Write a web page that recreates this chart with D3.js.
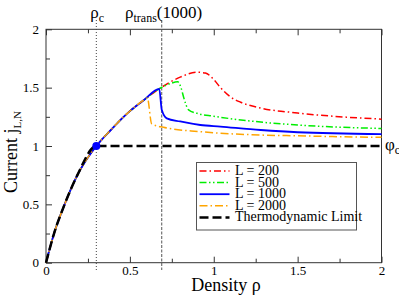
<!DOCTYPE html>
<html>
<head>
<meta charset="utf-8">
<script src="https://cdn.jsdelivr.net/npm/d3@7"></script>
<style>
  body { margin: 0; background: #fff; }
  svg { display: block; }
</style>
</head>
<body>
<svg id="chart" width="399" height="296"></svg>
<script>
// curve points, [density, current]
const base = [[0, 0], [0.048, 0.25], [0.111, 0.5], [0.187, 0.75], [0.3, 1.0],
              [0.386, 1.137], [0.485, 1.28], [0.584, 1.394]];
const L200 = base.concat([[0.675, 1.49], [0.8, 1.59], [0.9, 1.632], [0.95, 1.625], [1.0, 1.57],
              [1.04, 1.5], [1.1, 1.42], [1.16, 1.375], [1.28, 1.325], [1.5, 1.283], [2, 1.23]]);
const L500 = base.concat([[0.675, 1.49], [0.74, 1.535], [0.785, 1.55], [0.805, 1.5], [0.82, 1.42],
              [0.85, 1.31], [0.9, 1.28], [1.0, 1.255], [1.28, 1.205], [1.5, 1.18], [2, 1.15]]);
const L1000 = base.concat([[0.675, 1.49], [0.69, 1.31], [0.72, 1.237], [0.8, 1.21], [0.92, 1.18],
              [1.04, 1.166], [1.28, 1.137], [1.5, 1.118], [2, 1.102]]);
const L2000 = base.concat([[0.604, 1.412], [0.63, 1.19], [0.7, 1.16], [0.92, 1.123],
              [1.22, 1.097], [1.5, 1.087], [2, 1.074]]);
const thermo = base.slice(0, 5).concat([[2, 1.0]]);

const rhoC = 0.3, rhoTrans = 0.69, phiC = 1.0;
const xMajor = [0, 0.5, 1, 1.5, 2], xMinor = [0.25, 0.75, 1.25, 1.75];
const yMajor = [0, 0.5, 1, 1.5, 2], yMinor = [0.25, 0.75, 1.25, 1.75];
const legendLabels = ["L = 200", "L = 500", "L = 1000", "L = 2000", "Thermodynamic Limit"];

const FONT = "'Liberation Serif', 'Times New Roman', Times, 'DejaVu Serif', serif";

const series = [
  {data: L200,  color: "#ff0000", dash: "7,3,1.5,3", width: 1.5},
  {data: L500,  color: "#00ee00", dash: "7,2.5,1.5,2.5,1.5,2.5", width: 1.5},
  {data: L1000, color: "#0000ff", dash: null, width: 1.8},
  {data: L2000, color: "#ffa500", dash: "8,3,1.5,3", width: 1.5},
  {data: thermo, color: "#000", dash: "9,4", width: 2.5}
];

const svg = d3.select("#chart").attr("font-family", FONT);
const x = d3.scaleLinear().domain([0, 2]).range([46, 381.5]);
const y = d3.scaleLinear().domain([0, 2]).range([262.7, 29.3]);

// axes, ticks pointing inward
function axis(gen, vals, size, pad, labels, tr) {
  const g = svg.append("g").attr("transform", tr)
    .call(gen.tickValues(vals).tickSize(size).tickPadding(pad)
      .tickFormat(labels ? d3.format("") : ""));
  g.attr("font-family", FONT).attr("font-size", 13);
  g.select(".domain").remove();
  g.selectAll(".tick line").attr("stroke", "#333");
  return g;
}
axis(d3.axisBottom(x), xMajor, -6, 3, true, `translate(0,${y(0)})`);
axis(d3.axisBottom(x), xMinor, -4, 3, false, `translate(0,${y(0)})`);
axis(d3.axisTop(x), xMajor, -6, 3, false, `translate(0,${y(2)})`);
axis(d3.axisTop(x), xMinor, -4, 3, false, `translate(0,${y(2)})`);
axis(d3.axisLeft(y), yMajor, -6, 7, true, `translate(${x(0)},0)`);
axis(d3.axisLeft(y), yMinor, -4, 7, false, `translate(${x(0)},0)`);

svg.append("rect")
  .attr("x", x(0)).attr("y", y(2)).attr("width", x(2) - x(0)).attr("height", y(0) - y(2))
  .attr("fill", "none").attr("stroke", "#333").attr("stroke-width", 1);

// vertical markers
svg.append("line").attr("x1", x(rhoC)).attr("x2", x(rhoC)).attr("y1", 20).attr("y2", 270)
  .attr("stroke", "#444").attr("stroke-dasharray", "1,2");
svg.append("line").attr("x1", x(rhoTrans)).attr("x2", x(rhoTrans)).attr("y1", 20).attr("y2", 270)
  .attr("stroke", "#555").attr("stroke-dasharray", "3,1.5");

const line = d3.line().x(d => x(d[0])).y(d => y(d[1])).curve(d3.curveMonotoneX);
series.forEach(s => {
  svg.append("path").datum(s.data).attr("d", line)
    .attr("fill", "none").attr("stroke", s.color).attr("stroke-width", s.width)
    .attr("stroke-dasharray", s.dash);
});

svg.append("circle").attr("cx", x(rhoC)).attr("cy", y(phiC)).attr("r", 4).attr("fill", "#0000ff");

// labels on top
const t1 = svg.append("text").attr("x", x(rhoC) - 6).attr("y", 18).attr("font-size", 17);
t1.append("tspan").text("ρ");
t1.append("tspan").attr("font-size", 12).attr("dy", 4).text("c");
const t2 = svg.append("text").attr("x", 125).attr("y", 18).attr("font-size", 17);
t2.append("tspan").text("ρ");
t2.append("tspan").attr("font-size", 12).attr("dy", 4).text("trans");
t2.append("tspan").attr("dy", -4).text("(1000)");
const t3 = svg.append("text").attr("x", 385).attr("y", 150).attr("font-size", 17);
t3.append("tspan").text("φ");
t3.append("tspan").attr("font-size", 12).attr("dy", 4).text("c");

svg.append("text").attr("x", 226).attr("y", 291).attr("text-anchor", "middle")
  .attr("font-size", 18).text("Density ρ");
const yl = svg.append("text").attr("transform", "translate(16.5,152) rotate(-90)")
  .attr("text-anchor", "middle").attr("font-size", 18);
yl.append("tspan").text("Current j");
yl.append("tspan").attr("font-size", 11).attr("dy", 4).text("L,N");

// legend
const lg = svg.append("g").attr("transform", "translate(196.5,162.5)");
lg.append("rect").attr("width", 160).attr("height", 67.5)
  .attr("fill", "#fff").attr("stroke", "#555").attr("stroke-width", 1);
series.forEach((s, i) => {
  const yy = 8.5 + i * 11.6;
  lg.append("line").attr("x1", 3).attr("x2", 33).attr("y1", yy).attr("y2", yy)
    .attr("stroke", s.color).attr("stroke-width", s.width).attr("stroke-dasharray", s.dash);
  lg.append("text").attr("x", 38.5).attr("y", yy + 4).attr("font-size", 14).text(legendLabels[i]);
});
</script>
</body>
</html>
